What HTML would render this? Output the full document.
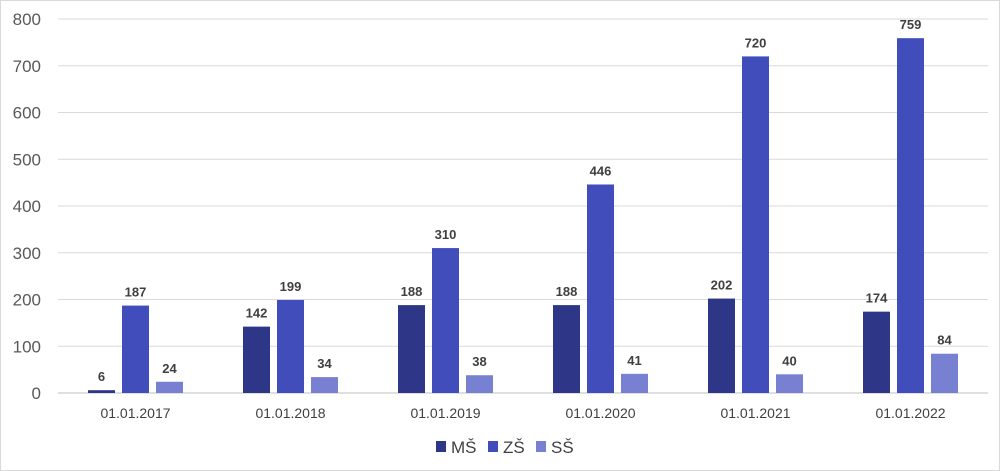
<!DOCTYPE html>
<html><head><meta charset="utf-8"><style>
body{margin:0;background:#fff}
svg{display:block;font-family:"Liberation Sans",sans-serif}
</style></head><body>
<svg id="chart" width="1000" height="471" viewBox="0 0 1000 471">
<rect x="0.5" y="0.5" width="999" height="470" fill="#fff" stroke="#d9d9d9"/>
<g id="grid"></g><g id="bars"></g><g id="labels"></g>
<g font-size="17" fill="#404040">
<rect x="436" y="441" width="10" height="11" fill="#2e3688"/>
<text x="451" y="453">MŠ</text>
<rect x="488" y="441" width="10" height="11" fill="#414dbb"/>
<text x="503" y="453">ZŠ</text>
<rect x="536" y="441" width="10" height="11" fill="#7880d2"/>
<text x="551" y="453">SŠ</text>
</g>
</svg>
<script>
const categories=["01.01.2017","01.01.2018","01.01.2019","01.01.2020","01.01.2021","01.01.2022"];
const msValues=[6,142,188,188,202,174];
const zsValues=[187,199,310,446,720,759];
const ssValues=[24,34,38,41,40,84];
const yTicks=[0,100,200,300,400,500,600,700,800];
const NS="http://www.w3.org/2000/svg";
const x0=58,x1=988,yBase=393,yTop=19,yMax=800;
const band=(x1-x0)/categories.length;
function y(v){return yBase-(v/yMax)*(yBase-yTop);}
function xc(i){return x0+band*(i+0.5);}
function mk(tag,attrs,parent){const e=document.createElementNS(NS,tag);for(const k in attrs)e.setAttribute(k,attrs[k]);parent.appendChild(e);return e;}
const grid=document.getElementById('grid'),bars=document.getElementById('bars'),labels=document.getElementById('labels');
yTicks.forEach(t=>{
  const l=mk('line',{x1:x0,x2:x1,y1:y(t),y2:y(t),stroke:t===0?'#bfbfbf':'#d9d9d9','stroke-width':1},grid);
  
  
  const tx=mk('text',{x:41,y:y(t)+6,'text-anchor':'end','font-size':17,fill:'#595959'},grid);
  tx.textContent=t;
  
  
});
const series=[[msValues,'#2e3688','ms'],[zsValues,'#414dbb','zs'],[ssValues,'#7880d2','ss']];
const bw=27,step=34;
categories.forEach((c,i)=>{
  series.forEach((s,j)=>{
    const v=s[0][i];
    const bx=xc(i)+(j-1)*step-bw/2;
    const r=mk('rect',{x:bx,y:y(v),width:bw,height:yBase-y(v),fill:s[1]},bars);
    
    
    const t=mk('text',{x:bx+bw/2,y:y(v)-9,'text-anchor':'middle','font-size':13,'font-weight':'bold',fill:'#404040'},labels);
    t.textContent=v;
    
    
  });
  const ct=mk('text',{x:xc(i),y:418,'text-anchor':'middle','font-size':14,fill:'#404040'},labels);
  ct.textContent=c;
  
  
});
</script>
</body></html>
